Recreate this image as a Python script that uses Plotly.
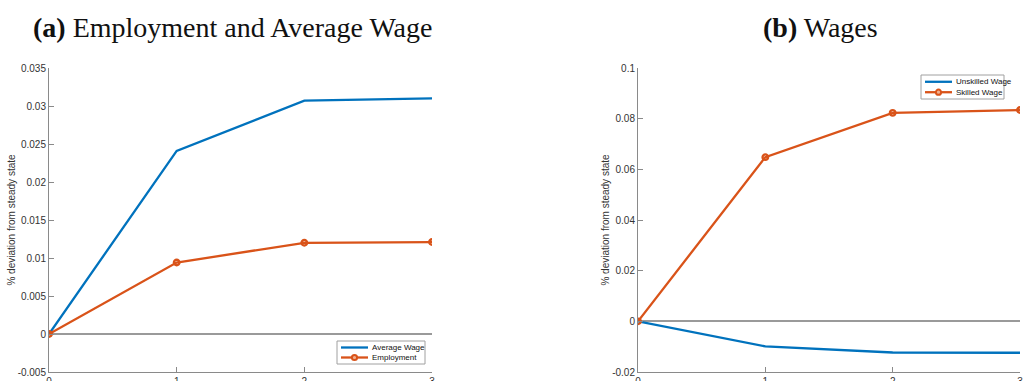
import plotly.graph_objects as go

# Impulse responses over four periods
periods = [0, 1, 2, 3]

# Panel (a)
average_wage = [0.0, 0.0241, 0.0307, 0.0310]
employment = [0.0, 0.0094, 0.0120, 0.0121]

# Panel (b)
unskilled_wage = [0.0, -0.0099, -0.0123, -0.0124]
skilled_wage = [0.0, 0.0648, 0.0823, 0.0834]

# Axis ticks
x_ticks = [0, 1, 2, 3]
x_tick_text = ["0", "1", "2", "3"]
a_y_ticks = [-0.005, 0, 0.005, 0.01, 0.015, 0.02, 0.025, 0.03, 0.035]
a_y_text = ["-0.005", "0", "0.005", "0.01", "0.015", "0.02", "0.025", "0.03", "0.035"]
b_y_ticks = [-0.02, 0, 0.02, 0.04, 0.06, 0.08, 0.1]
b_y_text = ["-0.02", "0", "0.02", "0.04", "0.06", "0.08", "0.1"]

BLUE = "#0072BD"
ORANGE = "#D95319"
AXIS = "#8a8a8a"
TEXT = "#333333"
SANS = "Liberation Sans, Arial, sans-serif"
W, H = 1024, 381
LW = 2.3

fig = go.Figure()

# Each series: (x axis, y axis, values, name, colour, with markers)
series = [
    ("x", "y", average_wage, "Average Wage", BLUE, False),
    ("x", "y", employment, "Employment", ORANGE, True),
    ("x2", "y2", unskilled_wage, "Unskilled Wage", BLUE, False),
    ("x2", "y2", skilled_wage, "Skilled Wage", ORANGE, True),
]
for xa, ya, vals, name, color, with_markers in series:
    fig.add_trace(go.Scatter(
        x=periods, y=vals, name=name, xaxis=xa, yaxis=ya,
        mode="lines+markers" if with_markers else "lines",
        line=dict(color=color, width=LW),
        marker=dict(symbol="circle-open", size=5.5, color=color, line=dict(width=2.4)),
        showlegend=False))

y_dom = [1 - 372 / H, 1 - 68 / H]
tick_font = dict(family=SANS, size=10, color=TEXT)

common_x = dict(
    range=[0, 3], tickvals=x_ticks, ticktext=x_tick_text, ticks="inside",
    ticklen=5, tickcolor=AXIS, showline=True, linecolor=AXIS, linewidth=1,
    showgrid=False, zeroline=False, tickfont=tick_font, fixedrange=True,
    automargin=False)

common_y = dict(
    ticks="inside", ticklen=5, tickcolor=AXIS, showline=True, linecolor=AXIS,
    linewidth=1, showgrid=False, zeroline=True, zerolinecolor="#9a9a9a",
    zerolinewidth=1.6, tickfont=tick_font, automargin=False, fixedrange=True)

ytitle = "% deviation from steady state"
ytitle_font = dict(family=SANS, size=10, color=TEXT)

fig.update_layout(
    width=W, height=H,
    margin=dict(l=0, r=0, t=0, b=0),
    paper_bgcolor="white", plot_bgcolor="white",
    xaxis=dict(domain=[49 / W, 432 / W], anchor="y", **common_x),
    yaxis=dict(domain=y_dom, anchor="x", range=[-0.005, 0.035],
               tickvals=a_y_ticks, ticktext=a_y_text,
               title=dict(text=ytitle, font=ytitle_font, standoff=0), **common_y),
    xaxis2=dict(domain=[638 / W, 1020 / W], anchor="y2", **common_x),
    yaxis2=dict(domain=y_dom, anchor="x2", range=[-0.02, 0.1],
                tickvals=b_y_ticks, ticktext=b_y_text,
                title=dict(text=ytitle, font=ytitle_font, standoff=0), **common_y),
    showlegend=False,
)


def add_legend_box(left, top, right, bottom, entries):
    """Boxed key in pixel positions: a short line swatch and a label per row."""
    px = lambda v: v / W
    py = lambda v: 1 - v / H
    fig.add_shape(type="rect", xref="paper", yref="paper",
                  x0=px(left), x1=px(right), y0=py(bottom), y1=py(top),
                  line=dict(color="#a0a0a0", width=1), fillcolor="white", layer="above")
    n = len(entries)
    row_h = (bottom - top) / (n + 0.3)
    for i, (name, color, with_marker) in enumerate(entries):
        yc = top + row_h * (i + 0.65)
        x0, x1 = left + 4, left + 31
        fig.add_shape(type="line", xref="paper", yref="paper",
                      x0=px(x0), x1=px(x1), y0=py(yc), y1=py(yc),
                      line=dict(color=color, width=LW), layer="above")
        if with_marker:
            xm = (x0 + x1) / 2
            fig.add_shape(type="circle", xref="paper", yref="paper",
                          x0=px(xm - 2.6), x1=px(xm + 2.6),
                          y0=py(yc + 2.6), y1=py(yc - 2.6),
                          line=dict(color=color, width=2), fillcolor="#f0b090",
                          layer="above")
        fig.add_annotation(text=name, xref="paper", yref="paper",
                           x=px(x1 + 2), y=py(yc), xanchor="left", yanchor="middle",
                           showarrow=False, font=dict(family=SANS, size=8, color="#111"))


add_legend_box(337, 341, 425, 364, [(s[3], s[4], s[5]) for s in series[:2]])
add_legend_box(921, 75, 1004, 99, [(s[3], s[4], s[5]) for s in series[2:]])

title_font = dict(family="Liberation Serif, Times New Roman, serif", size=28, color="#111")
fig.add_annotation(text="<b>(a)</b> Employment and Average Wage", xref="paper", yref="paper",
                   x=232 / W, y=1 - 28 / H, xanchor="center", yanchor="middle",
                   showarrow=False, font=title_font)
fig.add_annotation(text="<b>(b)</b> Wages", xref="paper", yref="paper",
                   x=820 / W, y=1 - 28 / H, xanchor="center", yanchor="middle",
                   showarrow=False, font=title_font)

fig.write_html("out.html")
